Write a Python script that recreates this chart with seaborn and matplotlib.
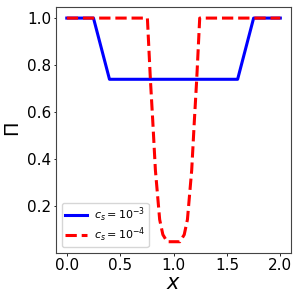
import numpy as np
import pandas as pd
import matplotlib
matplotlib.use("Agg")
import matplotlib.pyplot as plt
import seaborn as sns

# Series 1: c_s = 1e-3 (blue, solid)
x_blue = [0.0, 0.25, 0.40, 1.60, 1.75, 2.0]
pi_blue = [1.0, 1.0, 0.74, 0.74, 1.0, 1.0]

# Series 2: c_s = 1e-4 (red, dashed)
x_red = [0.0, 0.755, 0.783, 0.805, 0.83, 0.87, 0.90, 0.94, 1.06, 1.10, 1.13, 1.17, 1.195, 1.217, 1.245, 2.0]
pi_red = [1.0, 1.0, 0.74, 0.565, 0.354, 0.144, 0.08, 0.05, 0.05, 0.08, 0.144, 0.354, 0.565, 0.74, 1.0, 1.0]

labels = [r"$c_s = 10^{-3}$", r"$c_s = 10^{-4}$"]
xticks = [0.0, 0.5, 1.0, 1.5, 2.0]
yticks = [0.2, 0.4, 0.6, 0.8, 1.0]

df1 = pd.DataFrame({"x": x_blue, "Pi": pi_blue})
df2 = pd.DataFrame({"x": x_red, "Pi": pi_red})

fig = plt.figure(figsize=(3, 3), dpi=100)
ax = fig.add_axes([0.187, 0.157, 0.783, 0.82])
sns.lineplot(data=df1, x="x", y="Pi", ax=ax, color="#0000ff", linewidth=2.2,
             label=labels[0], sort=False)
sns.lineplot(data=df2, x="x", y="Pi", ax=ax, color="#ff0000", linewidth=2.2,
             linestyle="--", label=labels[1], sort=False)

ax.set_xticks(xticks)
ax.set_yticks(yticks)
ax.tick_params(labelsize=11, length=1.8, pad=1.8, width=0.6)
for s in ax.spines.values():
    s.set_linewidth(0.8)
    s.set_color("#444444")
ax.set_xlabel(r"$x$", fontsize=15, labelpad=0)
ax.set_ylabel(r"$\Pi$", fontsize=14, labelpad=3)
ax.legend(loc="lower left", fontsize=8, handlelength=2.0,
          labelspacing=0.1, borderpad=0.3, handletextpad=0.6)

fig.savefig("out.png", dpi=100)
